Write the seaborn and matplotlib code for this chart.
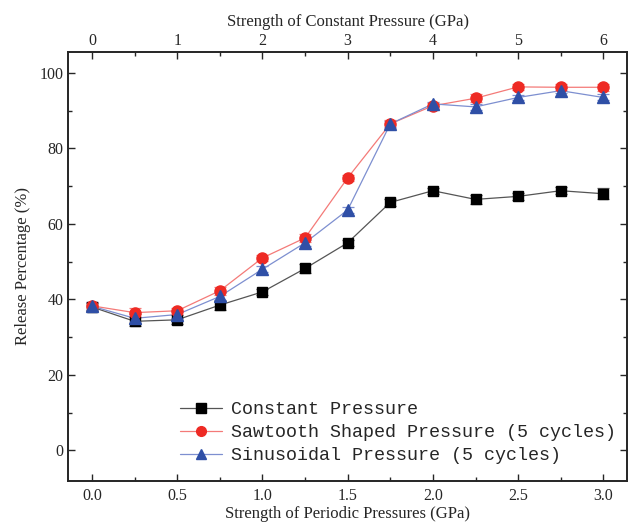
import numpy as np
import pandas as pd
import matplotlib
matplotlib.use('Agg')
import matplotlib.pyplot as plt
from matplotlib.lines import Line2D
from matplotlib.ticker import MultipleLocator
import seaborn as sns

sns.set_theme(style='ticks')
plt.rcParams['font.family'] = ['Liberation Serif', 'DejaVu Serif']

# data
pressure = [0.0, 0.25, 0.5, 0.75, 1.0, 1.25, 1.5, 1.75, 2.0, 2.25, 2.5, 2.75, 3.0]
constant = [38.0, 34.2, 34.6, 38.5, 42.0, 48.2, 55.0, 65.7, 68.8, 66.5, 67.3, 68.8, 68.0]
constant_err = [1.0, 1.2, 1.2, 1.2, 0.8, 1.3, 0.8, 1.0, 0.8, 1.2, 1.0, 1.0, 1.5]
sawtooth = [38.3, 36.5, 37.0, 42.3, 51.0, 56.3, 72.2, 86.5, 91.3, 93.3, 96.3, 96.2, 96.2]
sawtooth_err = [1.0, 1.2, 0.8, 1.0, 0.8, 1.0, 0.8, 1.0, 0.8, 1.0, 0.8, 0.8, 1.0]
sinusoidal = [38.2, 35.0, 36.0, 40.8, 48.0, 55.0, 63.7, 86.5, 91.8, 91.0, 93.5, 95.3, 93.5]
sinusoidal_err = [1.0, 1.2, 1.0, 1.0, 0.8, 0.8, 0.8, 0.8, 0.6, 0.8, 0.6, 0.6, 0.8]
series_names = ['Constant Pressure', 'Sawtooth Shaped Pressure (5 cycles)',
                'Sinusoidal Pressure (5 cycles)']
top_ticks = [0, 1, 2, 3, 4, 5, 6]

df = pd.DataFrame({
    'x': pressure * 3,
    'y': constant + sawtooth + sinusoidal,
    'err': constant_err + sawtooth_err + sinusoidal_err,
    'series': np.repeat(series_names, len(pressure)),
})

marker_col = {series_names[0]: '#000000', series_names[1]: '#ee2a24', series_names[2]: '#2f4fa6'}
line_col = {series_names[0]: '#555555', series_names[1]: '#f47a78', series_names[2]: '#7d8fd0'}
markers = {series_names[0]: 's', series_names[1]: 'o', series_names[2]: '^'}
msize = {series_names[0]: 7, series_names[1]: 8, series_names[2]: 9}

fig, ax = plt.subplots(figsize=(6.31, 5.27), dpi=100)
fig.subplots_adjust(left=0.108, right=0.994, bottom=0.088, top=0.901)

for name in series_names:
    sub = df[df['series'] == name]
    sns.lineplot(data=sub, x='x', y='y', ax=ax, color=line_col[name], linewidth=0.9,
                 legend=False, zorder=2)
    ax.errorbar(sub['x'], sub['y'], yerr=sub['err'], fmt='none', ecolor=line_col[name],
                elinewidth=0.9, capsize=4, capthick=0.9, zorder=3)
    ax.plot(sub['x'], sub['y'], linestyle='none', marker=markers[name],
            markersize=msize[name], color=marker_col[name], zorder=4)

ax.set_xlim(-0.14, 3.14)
ax.set_ylim(-8, 105.5)
ax.xaxis.set_major_locator(MultipleLocator(0.5))
ax.xaxis.set_minor_locator(MultipleLocator(0.25))
ax.yaxis.set_major_locator(MultipleLocator(20))
ax.yaxis.set_minor_locator(MultipleLocator(10))
ax.set_xticklabels([f'{v:.1f}' for v in ax.get_xticks()])
ax.tick_params(which='both', direction='in', top=False, right=True, labelsize=11.5)
ax.tick_params(axis='x', pad=5)
ax.tick_params(which='major', length=5, width=1)
ax.tick_params(which='minor', length=3, width=1)
ax.set_xlabel('Strength of Periodic Pressures (GPa)', fontsize=12, labelpad=2)
ax.set_ylabel('Release Percentage (%)', fontsize=12, labelpad=6)
for s in ax.spines.values():
    s.set_linewidth(1.2)

ax2 = ax.twiny()
ax2.set_xlim(-0.28, 6.28)
ax2.set_xticks(top_ticks)
ax2.xaxis.set_minor_locator(MultipleLocator(0.5))
ax2.tick_params(which='both', direction='in', labelsize=11.5, pad=2)
ax2.tick_params(which='major', length=5, width=1)
ax2.tick_params(which='minor', length=3, width=1)
ax2.set_xlabel('Strength of Constant Pressure (GPa)', fontsize=12, labelpad=5)

handles = [Line2D([], [], color=line_col[n], linewidth=0.9, marker=markers[n],
                  markersize=7, markerfacecolor=marker_col[n], markeredgecolor=marker_col[n])
           for n in series_names]
ax.legend(handles, series_names, loc='lower left', bbox_to_anchor=(0.17, 0.0),
          frameon=False, prop={'family': 'Liberation Mono', 'size': 13.2},
          handlelength=2.3, handletextpad=0.5, labelspacing=0.32, borderaxespad=0.5)

fig.savefig('out.png', dpi=100)
